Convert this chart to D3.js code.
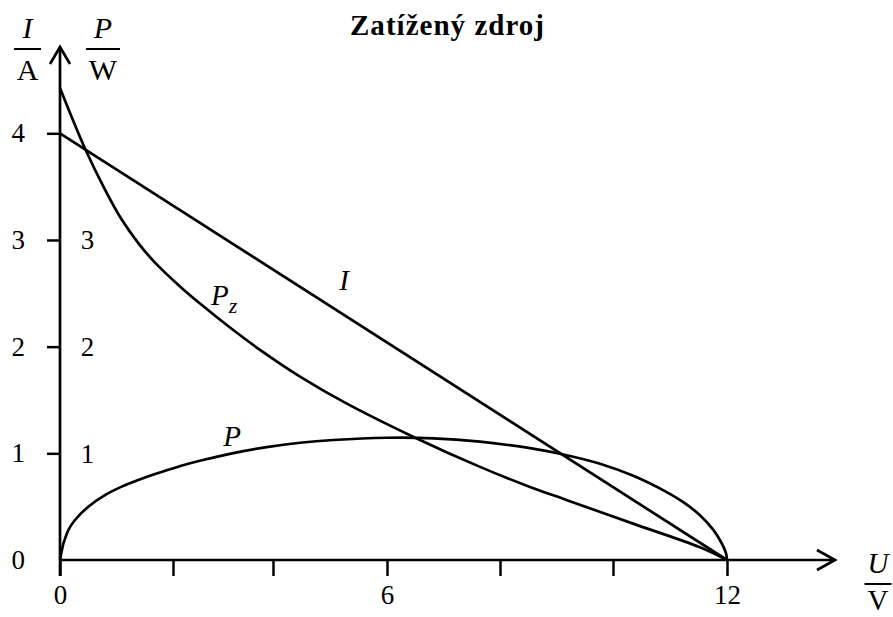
<!DOCTYPE html>
<html>
<head>
<meta charset="utf-8">
<script src="https://cdn.jsdelivr.net/npm/d3@7/dist/d3.min.js"></script>
<style>
  html, body { margin: 0; padding: 0; background: #fff; }
  svg { display: block; }
  text { font-family: "Liberation Serif", "Times New Roman", serif; fill: #000; }
</style>
</head>
<body>
<svg id="chart" width="893" height="617"></svg>
<script>
// Voltage U (V) vs current I (A) and powers P, Pz (W) of a loaded source
const titleText = "Zatížený zdroj";

const xTicks = [0, 2, 4, 6, 8, 10, 12];
const xTickLabels = [0, 6, 12];
const iTicks = [0, 1, 2, 3, 4];
const pTickLabels = [1, 2, 3];

// load line I(U)
const currentU = [0, 12];
const currentI = [4, 0];

// useful power P(U)
const powerU = [0, 0.027, 0.058, 0.106, 0.147, 0.265, 0.501, 0.796, 1.092, 1.386, 1.681, 1.977, 2.306,
                2.64, 3.206, 3.874, 4.474, 5.058, 5.995, 6.82, 7.646, 8.531, 9.181, 9.77, 10.356,
                10.942, 11.233, 11.526, 11.76, 11.907, 11.982, 12];
const powerP = [0, 0.075, 0.150, 0.225, 0.281, 0.375, 0.500, 0.609, 0.688, 0.750, 0.806, 0.856, 0.902,
                0.942, 1.002, 1.058, 1.099, 1.125, 1.146, 1.141, 1.109, 1.048, 0.982, 0.902, 0.789,
                0.636, 0.542, 0.420, 0.283, 0.157, 0.065, 0];

// total source power Pz(U)
const sourceU = [0, 0.442, 0.796, 1.092, 1.386, 1.681, 2.14, 2.54, 3.14, 3.74, 4.474, 5.263, 6.46,
                 7.646, 8.531, 9.186, 10.351, 11.526, 12];
const sourceP = [4.425, 3.858, 3.473, 3.192, 2.971, 2.788, 2.565, 2.404, 2.179, 1.970, 1.719, 1.475, 1.156,
                 0.873, 0.685, 0.561, 0.341, 0.119, 0];

const svg = d3.select("#chart");
const ink = "#000";
const lw = 2.7;

const x = d3.scaleLinear().domain(xTicks).range([60, 173, 273, 387, 500, 613, 727]);
const y = d3.scaleLinear().domain([0, 4]).range([560, 133.3]);

// title
svg.append("text")
  .attr("x", 447).attr("y", 35)
  .attr("text-anchor", "middle")
  .attr("font-size", 29).attr("font-weight", "bold")
  .attr("textLength", 194).attr("lengthAdjust", "spacing")
  .text(titleText);

// x axis ticks and labels
const xAxis = d3.axisBottom(x)
  .tickValues(xTicks)
  .tickSize(16)
  .tickPadding(9)
  .tickFormat(d => xTickLabels.includes(d) ? String(d) : "");
const gx = svg.append("g").attr("transform", `translate(0,${y(0)})`).call(xAxis);
gx.select(".domain").remove();
gx.selectAll(".tick line").attr("stroke", ink).attr("stroke-width", 2.5);
gx.selectAll(".tick text").attr("font-size", 27).attr("font-family", "Liberation Serif").attr("fill", ink);

// left current axis ticks and labels
const yAxis = d3.axisLeft(y)
  .tickValues(iTicks)
  .tickSize(13)
  .tickPadding(22)
  .tickFormat(d => String(d));
const gy = svg.append("g").attr("transform", `translate(${x(0)},0)`).call(yAxis);
gy.select(".domain").remove();
gy.selectAll(".tick line").attr("stroke", ink).attr("stroke-width", 2.5)
  .filter(d => d === 0).remove();
gy.selectAll(".tick text").attr("font-size", 27).attr("font-family", "Liberation Serif").attr("fill", ink);

// power labels to the right of the axis
svg.append("g").selectAll("text").data(pTickLabels).join("text")
  .attr("x", 87.5).attr("y", d => y(d) + 9.5)
  .attr("text-anchor", "middle").attr("font-size", 27)
  .text(d => d);

// axis lines with open arrow heads
const axes = svg.append("g").attr("fill", "none").attr("stroke", ink)
  .attr("stroke-width", lw).attr("stroke-linecap", "butt").attr("stroke-linejoin", "miter");
axes.append("line").attr("x1", x(0)).attr("x2", 835).attr("y1", y(0)).attr("y2", y(0));
axes.append("line").attr("x1", x(0)).attr("x2", x(0)).attr("y1", 576).attr("y2", 47);
axes.append("path").attr("d", `M817,550 L835,${y(0)} L817,570`);
axes.append("path").attr("d", `M${x(0) - 10},64 L${x(0)},47 L${x(0) + 10},64`);

// quantity / unit fractions
function fraction(cx, num, den, y0, barW, gap, size) {
  const g = svg.append("g");
  g.append("text").attr("x", cx).attr("y", y0).attr("text-anchor", "middle")
    .attr("font-size", size).attr("font-style", "italic").text(num);
  g.append("line").attr("x1", cx - barW / 2).attr("x2", cx + barW / 2)
    .attr("y1", y0 + 11).attr("y2", y0 + 11).attr("stroke", ink).attr("stroke-width", 2);
  g.append("text").attr("x", cx).attr("y", y0 + gap).attr("text-anchor", "middle")
    .attr("font-size", size).text(den);
}
fraction(27.5, "I", "A", 38, 27, 42, 30);
fraction(103, "P", "W", 38, 34, 42, 30);
fraction(878, "U", "V", 573, 27, 37, 29);

// curves
const smooth = d3.line().x(d => x(d[0])).y(d => y(d[1])).curve(d3.curveCatmullRom.alpha(0.5));
const straight = d3.line().x(d => x(d[0])).y(d => y(d[1]));
const curves = svg.append("g").attr("fill", "none").attr("stroke", ink)
  .attr("stroke-width", lw).attr("stroke-linejoin", "round");
curves.append("path").attr("d", straight(d3.zip(currentU, currentI)));
curves.append("path").attr("d", smooth(d3.zip(powerU, powerP)));
curves.append("path").attr("d", smooth(d3.zip(sourceU, sourceP)));

// curve labels
svg.append("text").attr("x", 344).attr("y", 290).attr("text-anchor", "middle")
  .attr("font-size", 29).attr("font-style", "italic").text("I");
svg.append("text").attr("x", 232).attr("y", 446).attr("text-anchor", "middle")
  .attr("font-size", 29).attr("font-style", "italic").text("P");
const pz = svg.append("text").attr("x", 211).attr("y", 305)
  .attr("font-size", 29).attr("font-style", "italic");
pz.append("tspan").text("P");
pz.append("tspan").attr("dy", 8).attr("font-size", 22).text("z");
</script>
</body>
</html>
